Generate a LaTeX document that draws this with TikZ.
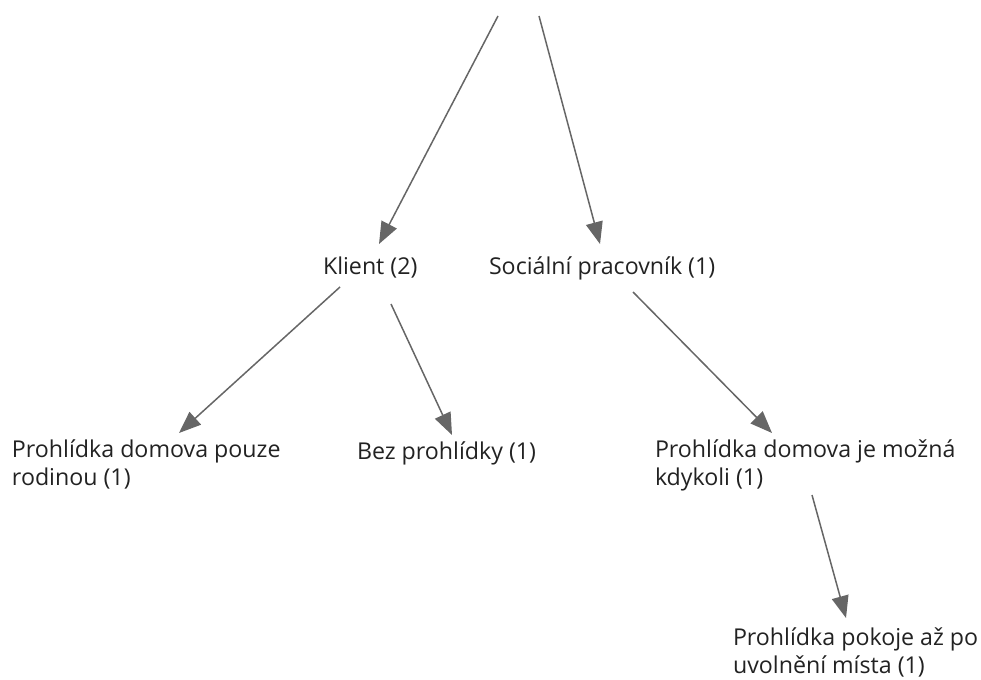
\documentclass[tikz,border=0pt]{standalone}
\usepackage{fontspec}
\setmainfont{Open Sans}
\usetikzlibrary{arrows.meta}
\definecolor{edgegray}{HTML}{666666}
\definecolor{textgray}{HTML}{222222}
\tikzset{
    item/.style={anchor=base west,inner sep=0pt,outer sep=0pt,align=left,text=textgray,font=\fontsize{23.2}{28}\selectfont},
    link/.style={draw=edgegray,line width=1.5pt,-{Triangle[length=22pt,width=17pt,fill=edgegray]}}
}

\begin{document}
\begin{tikzpicture}[x=1pt,y=-1pt]
  \useasboundingbox (0,0) rectangle (981,679);

  % Nodes (multi-line ones sit on their last line)
  \node[item] (klient) at (323,274) {Klient (2)};
  \node[item] (social) at (489,274) {Sociální pracovník (1)};
  \node[item] (pouze) at (12,485) {Prohlídka domova pouze\\rodinou (1)};
  \node[item] (bez) at (357,459) {Bez prohlídky (1)};
  \node[item] (kdykoli) at (655,485) {Prohlídka domova je možná\\kdykoli (1)};
  \node[item] (uvol) at (733,673) {Prohlídka pokoje až po\\uvolnění místa (1)};
  \coordinate (top1) at (498,16);
  \coordinate (top2) at (539,16);

  % Arrows
  \draw[link] (top1) -- ([shift={(56,-30)}]klient.base west);
  \draw[link] (top2) -- ([shift={(111,-30)}]social.base west);
  \draw[link] ([shift={(17,13)}]klient.base west) -- ([shift={(167,-52)}]pouze.base west);
  \draw[link] ([shift={(68,30)}]klient.base west) -- ([shift={(95,-24)}]bez.base west);
  \draw[link] ([shift={(144,18)}]social.base west) -- ([shift={(117,-52)}]kdykoli.base west);
  \draw[link] ([shift={(157,10)}]kdykoli.base west) -- ([shift={(113,-55)}]uvol.base west);
\end{tikzpicture}
\end{document}
